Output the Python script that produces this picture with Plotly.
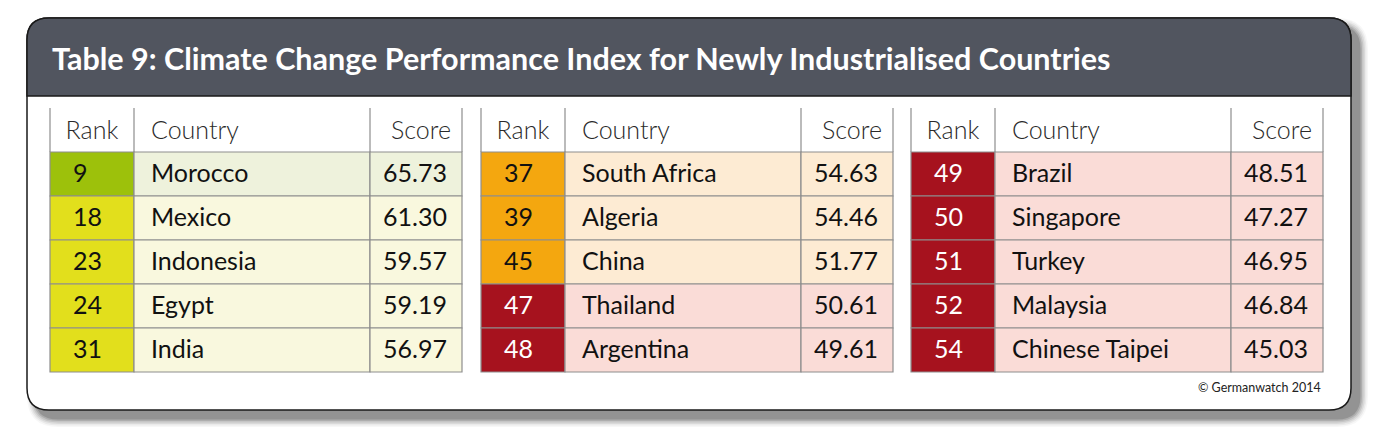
"""Climate Change Performance Index table card, rebuilt with Plotly."""
import plotly.graph_objects as go

# ---- data -------------------------------------------------------------
RANKS = [
    [9, 18, 23, 24, 31],
    [37, 39, 45, 47, 48],
    [49, 50, 51, 52, 54],
]
COUNTRIES = [
    ["Morocco", "Mexico", "Indonesia", "Egypt", "India"],
    ["South Africa", "Algeria", "China", "Thailand", "Argentina"],
    ["Brazil", "Singapore", "Turkey", "Malaysia", "Chinese Taipei"],
]
SCORES = [
    [65.73, 61.30, 59.57, 59.19, 56.97],
    [54.63, 54.46, 51.77, 50.61, 49.61],
    [48.51, 47.27, 46.95, 46.84, 45.03],
]
RATINGS = [
    ["good", "moderate", "moderate", "moderate", "moderate"],
    ["poor", "poor", "poor", "very poor", "very poor"],
    ["very poor", "very poor", "very poor", "very poor", "very poor"],
]
HEADERS = ["Rank", "Country", "Score"]
TITLE = "Table 9: Climate Change Performance Index for Newly Industrialised Countries"
SOURCE = "© Germanwatch 2014"

# ---- style ------------------------------------------------------------
FONT = "Lato, Open Sans, sans-serif"
BAR = "#51555f"
BORDER = "#8e8e8e"
TEXT = "#111111"
HEAD_TEXT = "#2a2a2a"
RANK_FILL = {"good": "#9dc10b", "moderate": "#e2df1c", "poor": "#f4a70f", "very poor": "#a6121e"}
ROW_FILL = {"good": "#eef2dc", "moderate": "#f9f8de", "poor": "#fdebd3", "very poor": "#fadcd7"}
RANK_TEXT = {"good": TEXT, "moderate": TEXT, "poor": TEXT, "very poor": "#ffffff"}

W, H = 1388, 438
PAGE_PAD = 8  # default body margin of the html page
CARD = (27, 18, 1351, 410)  # x0, y0, x1, y1 in page pixels
CARD_R = 22
BAR_Y1 = 96
TABLE_X = [50, 481, 911]
COL_W = [84, 236, 92]
HEAD_Y0, HEAD_H, ROW_H = 108, 44, 44
BODY_SIZE = 25


def rounded_rect(x0, y0, x1, y1, r, top_only=False):
    rb = 0 if top_only else r
    return (
        f"M {x0 + r},{y0} L {x1 - r},{y0} Q {x1},{y0} {x1},{y0 + r} "
        f"L {x1},{y1 - rb} Q {x1},{y1} {x1 - rb},{y1} "
        f"L {x0 + rb},{y1} Q {x0},{y1} {x0},{y1 - rb} "
        f"L {x0},{y0 + r} Q {x0},{y0} {x0 + r},{y0} Z"
    )


shapes = []

# soft drop shadow (stacked translucent layers)
for k, op in enumerate([0.03, 0.05, 0.07, 0.09, 0.12, 0.15]):
    spread = 9 - k * 1.5
    shapes.append(dict(
        type="path", xref="x", yref="y", layer="below",
        path=rounded_rect(CARD[0] + 9 - spread, CARD[1] + 9 - spread,
                          CARD[2] + 8 + spread, CARD[3] + 8 + spread, CARD_R + spread),
        fillcolor=f"rgba(0,0,0,{op})", line=dict(width=0),
    ))

# card + header bar
shapes.append(dict(type="path", xref="x", yref="y", layer="below",
                   path=rounded_rect(*CARD, CARD_R), fillcolor="white",
                   line=dict(color="#1a1a1a", width=1.5)))
shapes.append(dict(type="path", xref="x", yref="y", layer="below",
                   path=rounded_rect(CARD[0], CARD[1], CARD[2], BAR_Y1, CARD_R, top_only=True),
                   fillcolor=BAR, line=dict(color="#1a1a1a", width=1.5)))

fig = go.Figure()

for t in range(3):
    edges = [TABLE_X[t]]
    for w in COL_W:
        edges.append(edges[-1] + w)
    body_y0 = HEAD_Y0 + HEAD_H

    # header: only vertical rules
    for ex in edges:
        shapes.append(dict(type="line", xref="x", yref="y", layer="below",
                           x0=ex, x1=ex, y0=HEAD_Y0, y1=body_y0,
                           line=dict(color=BORDER, width=1.2)))

    # body cells
    for i, rating in enumerate(RATINGS[t]):
        y0 = body_y0 + i * ROW_H
        for c in range(3):
            fill = RANK_FILL[rating] if c == 0 else ROW_FILL[rating]
            shapes.append(dict(type="rect", xref="x", yref="y", layer="below",
                               x0=edges[c], x1=edges[c + 1], y0=y0, y1=y0 + ROW_H,
                               fillcolor=fill, line=dict(color=BORDER, width=1.2)))

    ys = [body_y0 + (i + 0.5) * ROW_H + 1.5 for i in range(len(RANKS[t]))]
    head_y = HEAD_Y0 + HEAD_H / 2 + 3

    # header labels
    fig.add_trace(go.Scatter(
        x=[(edges[0] + edges[1]) / 2, edges[1] + 17, edges[3] - 11],
        y=[head_y] * 3, mode="text", text=HEADERS,
        textposition=["middle center", "middle right", "middle left"],
        textfont=dict(family=FONT, size=BODY_SIZE, color=HEAD_TEXT, weight=300),
        hoverinfo="skip", showlegend=False,
    ))
    # rank / country / score columns
    fig.add_trace(go.Scatter(
        x=[edges[0] + 23] * len(ys), y=ys, mode="text",
        text=[str(r) for r in RANKS[t]], textposition="middle right",
        textfont=dict(family=FONT, size=BODY_SIZE, color=[RANK_TEXT[r] for r in RATINGS[t]]),
        hoverinfo="skip", showlegend=False,
    ))
    fig.add_trace(go.Scatter(
        x=[edges[1] + 17] * len(ys), y=ys, mode="text",
        text=COUNTRIES[t], textposition="middle right",
        textfont=dict(family=FONT, size=BODY_SIZE, color=TEXT),
        hoverinfo="skip", showlegend=False,
    ))
    fig.add_trace(go.Scatter(
        x=[edges[3] - 15] * len(ys), y=ys, mode="text",
        text=[f"{s:.2f}" for s in SCORES[t]], textposition="middle left",
        textfont=dict(family=FONT, size=BODY_SIZE, color=TEXT),
        hoverinfo="skip", showlegend=False,
    ))

fig.add_annotation(x=50, y=(CARD[1] + BAR_Y1) / 2 + 1, xref="x", yref="y",
                   text=TITLE, showarrow=False, xanchor="left", yanchor="middle",
                   font=dict(family=FONT, size=30.5, color="white", weight=700))
fig.add_annotation(x=TABLE_X[2] + sum(COL_W), y=387, xref="x", yref="y",
                   text=SOURCE, showarrow=False, xanchor="right", yanchor="middle",
                   font=dict(family=FONT, size=12.5, color="#222222"))

fig.update_layout(
    width=W - PAGE_PAD, height=H - PAGE_PAD,
    margin=dict(l=0, r=0, t=0, b=0),
    paper_bgcolor="white", plot_bgcolor="white",
    shapes=shapes,
    xaxis=dict(range=[PAGE_PAD, W], visible=False, fixedrange=True),
    yaxis=dict(range=[H, PAGE_PAD], visible=False, fixedrange=True),
    showlegend=False,
)

fig.write_html("out.html", config={"displayModeBar": False})
